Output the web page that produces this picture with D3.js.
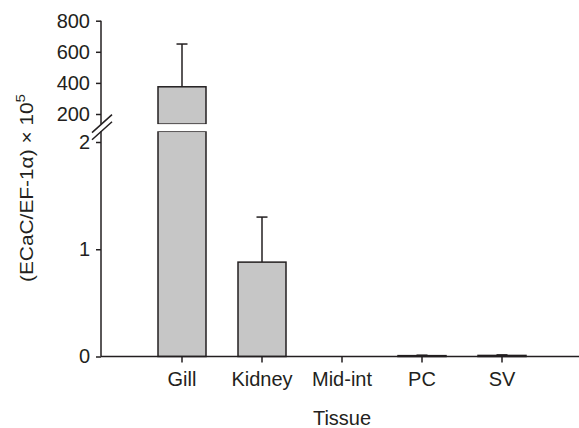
<!DOCTYPE html>
<html>
<head>
<meta charset="utf-8">
<script src="https://cdn.jsdelivr.net/npm/d3@7"></script>
<style>
  body { margin: 0; background: #fff; }
  text { font-family: "Liberation Sans", Arial, sans-serif; fill: #231f20; }
</style>
</head>
<body>
<svg id="chart" width="579" height="428"></svg>
<script>
const tissues = ["Gill", "Kidney", "Mid-int", "PC", "SV"];
const means = [375, 0.88, 0, 0.008, 0.01];
const errors = [275, 0.42, 0, 0.004, 0.005];
const lowTicks = [0, 1, 2];
const highTicks = [200, 400, 600, 800];

const svg = d3.select("#chart");
const axisX = 101, axisY = 356.5;
const ink = "#231f20";
const fontSize = 20;

// broken y axis: two linear segments
const yLow = d3.scaleLinear().domain([0, 2]).range([axisY, 142]);
const yHigh = d3.scaleLinear().domain([200, 800]).range([114, 20.7]);
const lowTop = 2.1, highBottom = 135;

const x = d3.scaleBand().domain(tissues).range([142, 542])
  .paddingInner(0.4).paddingOuter(0.2);

const data = tissues.map((t, i) => ({ tissue: t, mean: means[i], err: errors[i] }));

// bars
const bars = svg.append("g");
data.forEach(d => {
  if (d.mean > lowTop) {
    bars.append("rect")
      .attr("x", x(d.tissue)).attr("width", x.bandwidth())
      .attr("y", yLow(lowTop)).attr("height", axisY - yLow(lowTop))
      .attr("fill", "#c6c6c6").attr("stroke", ink).attr("stroke-width", 1.5);
    bars.append("rect")
      .attr("x", x(d.tissue)).attr("width", x.bandwidth())
      .attr("y", yHigh(d.mean)).attr("height", yHigh(highBottom) - yHigh(d.mean))
      .attr("fill", "#c6c6c6").attr("stroke", ink).attr("stroke-width", 1.5);
    // hide the horizontal edges at the break
    bars.append("rect")
      .attr("x", x(d.tissue) - 2).attr("width", x.bandwidth() + 4)
      .attr("y", yHigh(highBottom)).attr("height", yLow(lowTop) - yHigh(highBottom))
      .attr("fill", "#fff");
  } else if (d.mean > 0) {
    bars.append("rect")
      .attr("x", x(d.tissue)).attr("width", x.bandwidth())
      .attr("y", yLow(d.mean)).attr("height", axisY - yLow(d.mean))
      .attr("fill", "#c6c6c6").attr("stroke", ink).attr("stroke-width", 1.5);
  }
});

// error bars
const errG = svg.append("g").attr("stroke", ink).attr("stroke-width", 1.5);
data.filter(d => d.err > 0).forEach(d => {
  const ys = d.mean > lowTop ? yHigh : yLow;
  const cx = x(d.tissue) + x.bandwidth() / 2;
  errG.append("line").attr("x1", cx).attr("x2", cx)
    .attr("y1", ys(d.mean)).attr("y2", ys(d.mean + d.err));
  errG.append("line").attr("x1", cx - 5.5).attr("x2", cx + 5.5)
    .attr("y1", ys(d.mean + d.err)).attr("y2", ys(d.mean + d.err));
});

// y axes
function styleAxis(g) {
  g.select(".domain").remove();
  g.selectAll(".tick line").attr("stroke", ink).attr("stroke-width", 1.5);
  g.selectAll(".tick text").attr("font-size", fontSize).attr("fill", ink)
    .attr("font-family", "Liberation Sans, Arial, sans-serif");
}
svg.append("g").attr("transform", `translate(${axisX},0)`)
  .call(d3.axisLeft(yHigh).tickValues(highTicks).tickFormat(d3.format("d"))
    .tickSize(5).tickPadding(6))
  .call(styleAxis);
svg.append("g").attr("transform", `translate(${axisX},0)`)
  .call(d3.axisLeft(yLow).tickValues(lowTicks).tickFormat(d3.format("d"))
    .tickSize(5).tickPadding(6))
  .call(styleAxis);

const axisLines = svg.append("g").attr("stroke", ink).attr("stroke-width", 1.5);
axisLines.append("line").attr("x1", axisX).attr("x2", axisX)
  .attr("y1", yHigh(800)).attr("y2", yHigh(highBottom));
axisLines.append("line").attr("x1", axisX).attr("x2", axisX)
  .attr("y1", yLow(lowTop)).attr("y2", axisY);
// break marks
[yHigh(highBottom), yLow(lowTop)].forEach(yy => {
  axisLines.append("line")
    .attr("x1", axisX - 9).attr("y1", yy + 8.5)
    .attr("x2", axisX + 11).attr("y2", yy - 9.5);
});

// x axis
axisLines.append("line").attr("x1", axisX).attr("x2", 579)
  .attr("y1", axisY).attr("y2", axisY);
const xAxis = svg.append("g").attr("transform", `translate(0,${axisY})`)
  .call(d3.axisBottom(x).tickSize(6).tickSizeOuter(0).tickPadding(9));
xAxis.select(".domain").remove();
xAxis.selectAll(".tick line").attr("stroke", ink).attr("stroke-width", 1.5);
xAxis.selectAll(".tick text").attr("font-size", fontSize).attr("fill", ink)
  .attr("font-family", "Liberation Sans, Arial, sans-serif");

// axis titles
svg.append("text")
  .attr("x", 342).attr("y", 425)
  .attr("text-anchor", "middle").attr("font-size", fontSize)
  .text("Tissue");

const yTitle = svg.append("text")
  .attr("transform", "translate(33,188) rotate(-90)")
  .attr("text-anchor", "middle").attr("font-size", 18)
  .attr("textLength", 188).attr("lengthAdjust", "spacingAndGlyphs");
yTitle.append("tspan").text("(ECaC/EF-1\u03b1) \u00d7 10");
yTitle.append("tspan").attr("dy", -8).attr("font-size", 13).text("5");
</script>
</body>
</html>
